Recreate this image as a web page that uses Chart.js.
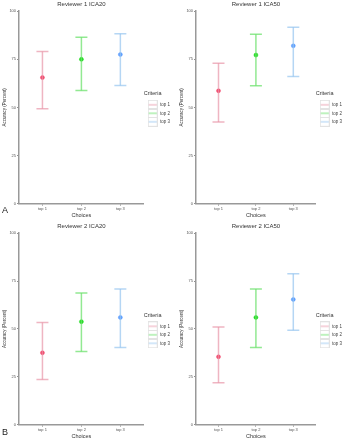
<!DOCTYPE html>
<html>
<head>
<meta charset="utf-8">
<script src="https://cdn.jsdelivr.net/npm/chart.js@4.4.1/dist/chart.umd.min.js"></script>
<style>
  body { margin: 0; background: #fff; font-family: "Liberation Sans", Arial, sans-serif; }
  #wrap { position: relative; width: 343px; height: 440px; overflow: hidden; }
  .panel { position: absolute; width: 172px; height: 220px; overflow: hidden; }
  .tag { position: absolute; font-size: 9px; color: #222; }
</style>
</head>
<body>
<div id="wrap">
  <div class="panel" style="left:0;top:0"><canvas id="c1" width="180" height="220"></canvas></div>
  <div class="panel" style="left:172px;top:0"><canvas id="c2" width="180" height="220"></canvas></div>
  <div class="panel" style="left:0;top:220px"><canvas id="c3" width="180" height="220"></canvas></div>
  <div class="panel" style="left:172px;top:220px"><canvas id="c4" width="180" height="220"></canvas></div>
  <div class="tag" style="left:2px;top:205px">A</div>
  <div class="tag" style="left:2px;top:427px">B</div>
</div>
<script>
const choices = ["top 1", "top 2", "top 3"];
const yTicks = [0, 25, 50, 75, 100];

// mean accuracy and interval bounds per choice
const r1ica20Mean = [65.5, 75.0, 77.5];
const r1ica20Low = [49.3, 58.8, 61.4];
const r1ica20High = [79.0, 86.5, 88.3];

const r1ica50Mean = [58.6, 77.2, 82.0];
const r1ica50Low = [42.4, 61.2, 66.1];
const r1ica50High = [73.0, 88.0, 91.6];

const r2ica20Mean = [37.5, 53.8, 56.0];
const r2ica20Low = [23.6, 38.2, 40.3];
const r2ica20High = [53.4, 68.8, 70.9];

const r2ica50Mean = [35.4, 56.0, 65.4];
const r2ica50Low = [21.8, 40.3, 49.3];
const r2ica50High = [51.0, 70.9, 78.8];

const pointColors = ["#f2476b", "#1fdc1f", "#5c9dff"];
const barColors = ["rgba(232,150,168,0.7)", "rgba(110,226,110,0.75)", "rgba(150,196,240,0.7)"];

// small legend key: grey box with a coloured stroke through it
function keyImage(color) {
    const c = document.createElement("canvas");
    c.width = 10;
    c.height = 10;
    const g = c.getContext("2d");
    g.strokeStyle = "#e2e2e2";
    g.lineWidth = 1;
    g.strokeRect(0.5, 0.5, 9, 9);
    g.strokeStyle = color;
    g.lineWidth = 1.2;
    g.beginPath();
    g.moveTo(1, 5);
    g.lineTo(9, 5);
    g.stroke();
    return c;
}

function makePanel(id, title, mean, low, high, pad) {
    const datasets = [];
    choices.forEach((name, i) => {
        datasets.push({
            label: name,
            data: [{ x: i + 1, y: low[i] }, { x: i + 1, y: high[i] }],
            showLine: true,
            borderColor: barColors[i],
            borderWidth: 1.5,
            pointStyle: "line",
            pointRadius: 6,
            pointBorderWidth: 1.5,
            pointBorderColor: barColors[i],
        });
    });
    choices.forEach((name, i) => {
        datasets.push({
            label: "_mean",
            data: [{ x: i + 1, y: mean[i] }],
            pointRadius: 2,
            pointBackgroundColor: pointColors[i],
            pointBorderColor: pointColors[i],
            pointBorderWidth: 0.5,
        });
    });

    const tickFont = { size: 4, family: "Liberation Sans" };
    new Chart(document.getElementById(id), {
        type: "scatter",
        data: { datasets: datasets },
        options: {
            responsive: false,
            animation: false,
            events: [],
            layout: { padding: pad },
            plugins: {
                tooltip: { enabled: false },
                title: {
                    display: true,
                    text: title,
                    fullSize: false,
                    color: "#333",
                    font: { size: 6, weight: "normal", family: "Liberation Sans" },
                    padding: { top: 1, bottom: 3 },
                },
                legend: {
                    position: "right",
                    title: {
                        display: true,
                        text: "Criteria",
                        position: "start",
                        color: "#333",
                        font: { size: 5.5, family: "Liberation Sans" },
                        padding: { top: 0, bottom: 1 },
                    },
                    labels: {
                        filter: (item) => item.text !== "_mean",
                        usePointStyle: true,
                        pointStyleWidth: 10,
                        padding: 4,
                        color: "#444",
                        font: { size: 4.5, family: "Liberation Sans" },
                        generateLabels: (chart) =>
                            Chart.defaults.plugins.legend.labels.generateLabels(chart).map((l, i) => {
                                if (i < 3) l.pointStyle = keyImage(barColors[i]);
                                return l;
                            }),
                    },
                },
            },
            scales: {
                x: {
                    type: "linear",
                    min: 0.4,
                    max: 3.6,
                    afterBuildTicks: (scale) => {
                        scale.ticks = choices.map((c, i) => ({ value: i + 1 }));
                    },
                    ticks: {
                        callback: (v) => choices[v - 1],
                        color: "#555",
                        font: tickFont,
                        padding: 1,
                        maxRotation: 0,
                    },
                    grid: { drawOnChartArea: false, tickLength: 2, color: "#888" },
                    border: { color: "#999", width: 1.5 },
                    title: {
                        display: true,
                        text: "Choices",
                        color: "#333",
                        font: { size: 5.5, family: "Liberation Sans" },
                        padding: { top: 0, bottom: 0 },
                    },
                },
                y: {
                    min: 0,
                    max: 100,
                    afterBuildTicks: (scale) => {
                        scale.ticks = yTicks.map((v) => ({ value: v }));
                    },
                    ticks: {
                        color: "#555",
                        font: tickFont,
                        padding: 1,
                    },
                    grid: { drawOnChartArea: false, tickLength: 2, color: "#888" },
                    border: { color: "#999", width: 1.5 },
                    title: {
                        display: true,
                        text: "Accuracy (Percent)",
                        color: "#333",
                        font: { size: 4.5, family: "Liberation Sans" },
                        padding: { top: 0, bottom: 1 },
                    },
                },
            },
        },
    });
}

makePanel("c1", "Reviewer 1 ICA20", r1ica20Mean, r1ica20Low, r1ica20High, { left: 2, right: 0, top: 0, bottom: 1 });
makePanel("c2", "Reviewer 1 ICA50", r1ica50Mean, r1ica50Low, r1ica50High, { left: 7, right: 0, top: 0, bottom: 1 });
makePanel("c3", "Reviewer 2 ICA20", r2ica20Mean, r2ica20Low, r2ica20High, { left: 2, right: 0, top: 2, bottom: 0 });
makePanel("c4", "Reviewer 2 ICA50", r2ica50Mean, r2ica50Low, r2ica50High, { left: 7, right: 0, top: 2, bottom: 0 });
</script>
</body>
</html>
